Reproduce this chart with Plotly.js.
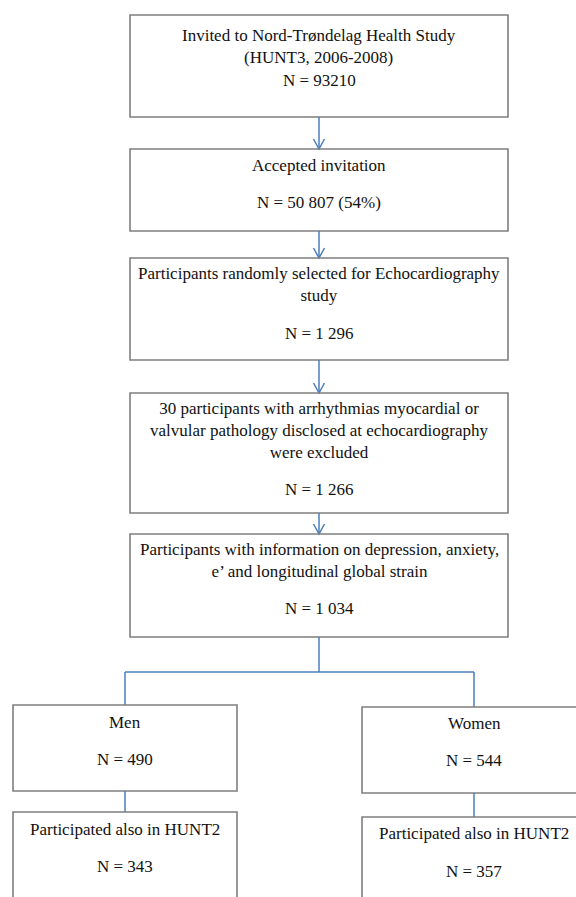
<!DOCTYPE html>
<html>
<head>
<meta charset="utf-8">
<script src="https://cdn.plot.ly/plotly-3.0.1.min.js"></script>
<style>html,body{margin:0;padding:0;background:#fff;}#chart{width:576px;height:897px;}</style>
</head>
<body>
<div id="chart"></div>
<script>
// ---- data: flow steps ----
const stepLabels = [
  "Invited to Nord-Trøndelag Health Study<br>(HUNT3, 2006-2008)",
  "Accepted invitation",
  "Participants randomly selected for Echocardiography<br>study",
  "30 participants with arrhythmias myocardial or<br>valvular pathology disclosed at echocardiography<br>were excluded",
  "Participants with information on depression, anxiety,<br>e’ and longitudinal global strain"
];
const stepCounts = ["93210", "50 807 (54%)", "1 296", "1 266", "1 034"];
const groupLabels = ["Men", "Women"];
const groupCounts = ["490", "544"];
const hunt2Label = "Participated also in HUNT2";
const hunt2Counts = ["343", "357"];

// ---- layout geometry (pixels, y downwards) ----
const stepBoxes = [[15,117],[149,231],[258,360],[393,513],[534,637]];
const stepDescY = [46,165,284.5,430,560];
const stepNY = [80,202,333,489,608];
const colX = [130,508], colC = 319;
const groupX = [[13,237],[362,586]], groupC = [125,474];
const groupBoxes = [[705,791],[707,793]];
const groupDescY = [722,723], groupNY = [759,760];
const hunt2Boxes = [[812,915],[817,915]];
const hunt2DescY = [829,833], hunt2NY = [866,871];
const branchY = 672;

const grey = "#7f7f7f", blue = "#4a7ebb";
const font = {family: "Liberation Serif, Times New Roman, serif", size: 17, color: "#111"};

const shapes = [], annotations = [];
function box(x0,x1,y0,y1){
  shapes.push({type:"rect", xref:"x", yref:"y", x0:x0, x1:x1, y0:y0, y1:y1, line:{color:grey, width:1.6}, fillcolor:"rgba(0,0,0,0)"});
}
function seg(x0,y0,x1,y1){
  shapes.push({type:"line", xref:"x", yref:"y", x0:x0, y0:y0, x1:x1, y1:y1, line:{color:blue, width:1.5}});
}
function arrow(x,y0,y1){
  seg(x,y0,x,y1);
  shapes.push({type:"path", xref:"x", yref:"y", path:`M ${x-5.5},${y1-10} L ${x},${y1} L ${x+5.5},${y1-10}`, line:{color:blue, width:1.5}});
}
function txt(x,y,t){
  annotations.push({xref:"x", yref:"y", x:x, y:y, text:t, showarrow:false, xanchor:"center", yanchor:"middle", align:"center", font:font});
}

stepLabels.forEach((lab,i)=>{
  box(colX[0], colX[1], stepBoxes[i][0], stepBoxes[i][1]);
  txt(colC, stepDescY[i], lab);
  txt(colC, stepNY[i], "N = " + stepCounts[i]);
  if(i < stepLabels.length-1) arrow(colC, stepBoxes[i][1], stepBoxes[i+1][0]);
});

// branch
seg(colC, stepBoxes[4][1], colC, branchY);
seg(groupC[0], branchY, groupC[1], branchY);
groupLabels.forEach((lab,i)=>{
  seg(groupC[i], branchY, groupC[i], groupBoxes[i][0]);
  box(groupX[i][0], groupX[i][1], groupBoxes[i][0], groupBoxes[i][1]);
  txt(groupC[i], groupDescY[i], lab);
  txt(groupC[i], groupNY[i], "N = " + groupCounts[i]);
  seg(groupC[i], groupBoxes[i][1], groupC[i], hunt2Boxes[i][0]);
  box(groupX[i][0], groupX[i][1], hunt2Boxes[i][0], hunt2Boxes[i][1]);
  txt(groupC[i], hunt2DescY[i], hunt2Label);
  txt(groupC[i], hunt2NY[i], "N = " + hunt2Counts[i]);
});

const layout = {
  width: 576, height: 897,
  margin: {l:0, r:0, t:0, b:0, pad:0},
  paper_bgcolor: "#fff", plot_bgcolor: "#fff",
  xaxis: {range:[0,576], visible:false, fixedrange:true},
  yaxis: {range:[897,0], visible:false, fixedrange:true},
  showlegend: false,
  shapes: shapes,
  annotations: annotations
};
Plotly.newPlot("chart", [], layout, {displayModeBar:false, staticPlot:true});
</script>
</body>
</html>
